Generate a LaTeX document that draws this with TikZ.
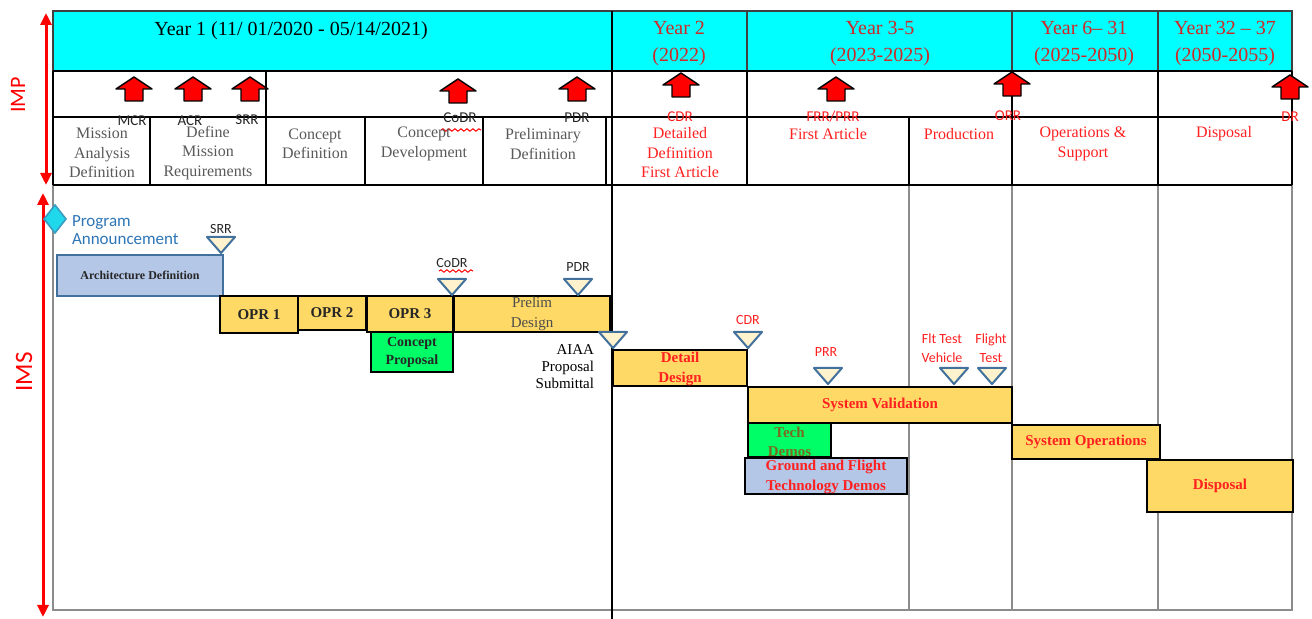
\documentclass[tikz,border=0pt]{standalone}
\usepackage{fontspec}
\setmainfont{Liberation Serif}
\newfontfamily\calib{Carlito}
\usetikzlibrary{fit,arrows.meta,decorations.pathmorphing}

\definecolor{hdrcyan}{HTML}{00FFFF}
\definecolor{yrred}{HTML}{D02828}
\definecolor{phgray}{HTML}{595959}
\definecolor{phred}{HTML}{FF2020}
\definecolor{barY}{HTML}{FFD966}
\definecolor{barG}{HTML}{00FF66}
\definecolor{barB}{HTML}{B4C7E7}
\definecolor{triF}{HTML}{FFF2CC}
\definecolor{triE}{HTML}{41719C}
\definecolor{annBlue}{HTML}{2E75B6}
\definecolor{frameGray}{HTML}{8C8C8C}
\definecolor{diamC}{HTML}{1FD8EC}
\definecolor{diamE}{HTML}{3A9BC0}
\definecolor{olivetxt}{HTML}{7A6A20}

\tikzset{
  gridline/.style={draw=black, line width=0.6pt},
  lowline/.style={draw=frameGray, line width=1.1pt},
  hdrcell/.style={fill=hdrcyan, draw=black!75, line width=0.8pt, inner sep=0pt},
  hdrtxt/.style={font=\fontsize{10}{13.5}\selectfont, align=center, text=yrred},
  phaselab/.style={font=\fontsize{8}{9.75}\selectfont, align=center, text=phgray},
  phaseredlab/.style={phaselab, text=phred},
  mslab/.style={font=\calib\fontsize{7.5}{8}\selectfont, text=black!85},
  msredlab/.style={mslab, text=phred},
  trilab/.style={font=\calib\fontsize{7}{9.5}\selectfont, align=center, text=black!85},
  triredlab/.style={trilab, text=phred},
  barbox/.style={draw=black, line width=1pt, inner sep=0pt},
  ybar/.style={barbox, fill=barY},
  gbar/.style={barbox, fill=barG},
  bbar/.style={barbox, fill=barB},
  bartxt/.style={align=center, font=\bfseries\fontsize{7.5}{9.75}\selectfont},
  bartxtred/.style={bartxt, text=phred},
  blk/.style={fill=red, draw=black, line width=0.7pt, line join=round},
  tri/.style={fill=triF, draw=triE, line width=1pt, line join=round},
  upblock/.pic={\draw[blk] (0,0) -- (18,12) -- (9,12) -- (9,24) -- (-9,24) -- (-9,12) -- (-18,12) -- cycle;},
  msdown/.pic={\draw[tri] (-14,0) -- (14,0) -- (0,16) -- cycle;},
  wavy/.style={draw=red, line width=0.5pt, decorate,
               decoration={snake, amplitude=0.6pt, segment length=3pt}},
  sidearrow/.style={draw=red, line width=1.5pt,
               {Triangle[length=6pt,width=5.5pt]}-{Triangle[length=6pt,width=5.5pt]}},
}

\begin{document}
\begin{tikzpicture}[x=0.5pt,y=-0.5pt, every node/.style={inner sep=0pt, outer sep=0pt}]
\useasboundingbox (0,0) rectangle (1312,619);

% outer frame and lower column lines
\draw[lowline] (53,11) -- (53,610) -- (1292,610) -- (1292,11);
\draw[lowline] (909,185) -- (909,610);
\draw[lowline] (1012,185) -- (1012,610);
\draw[lowline] (1158,185) -- (1158,610);

% year header cells
\node[hdrcell, fit={(53,11)(612,71)}] (yr1) {};
\node[hdrcell, fit={(612,11)(747,71)}] (yr2) {};
\node[hdrcell, fit={(747,11)(1012,71)}] (yr3) {};
\node[hdrcell, fit={(1012,11)(1158,71)}] (yr6) {};
\node[hdrcell, fit={(1158,11)(1292,71)}] (yr32) {};

\node[font=\fontsize{10}{13}\selectfont] (t1) at (291,31) {Year 1 (11/ 01/2020 - 05/14/2021)};
\node[hdrtxt] (t2) at (679,44) {Year 2\\(2022)};
\node[hdrtxt] (t3) at (880,44) {Year 3-5\\(2023-2025)};
\node[hdrtxt] (t6) at (1084,44) {Year 6– 31\\(2025-2050)};
\node[hdrtxt] (t32) at (1225,44) {Year 32 – 37\\(2050-2055)};

% milestone and phase rows
\draw[gridline] (53,71) -- (1292,71);
\draw[gridline] (53,117) -- (1292,117);
\draw[gridline] (53,185) -- (1292,185);
\draw[gridline] (53,71) -- (53,185);
\draw[gridline] (1292,71) -- (1292,185);
\draw[gridline] (266,71) -- (266,185);
\draw[gridline] (747,71) -- (747,185);
\draw[gridline] (1012,71) -- (1012,185);
\draw[gridline] (1158,71) -- (1158,185);
\foreach \xx in {150,365,483,606,909}
  \draw[gridline] (\xx,117) -- (\xx,185);
\draw[black, line width=1.1pt] (612,11) -- (612,619);

% review arrows
\pic (aMCR) at (134,77) {upblock};
\pic (aACR) at (193,77) {upblock};
\pic (aSRR) at (250,77) {upblock};
\pic (aCoDR) at (458,79) {upblock};
\pic (aPDR) at (577,77) {upblock};
\pic (aCDR) at (681,73) {upblock};
\pic (aFRR) at (836,77) {upblock};
\pic (aORR) at (1012,72) {upblock};
\pic (aDR) at (1290,75) {upblock};

\node[mslab] (lMCR) at (132,121) {MCR};
\node[mslab] (lACR) at (190,121) {ACR};
\node[mslab] (lSRR) at (247,120) {SRR};
\node[mslab] (lCoDR) at (460,118) {CoDR};
\draw[wavy] (441,130) -- (481,130);
\node[mslab] (lPDR) at (577,118) {PDR};
\node[msredlab] (lCDR) at (680,117) {CDR};
\node[msredlab] (lFRR) at (833,117) {FRR/PRR};
\node[msredlab] (lORR) at (1008,116) {ORR};
\node[msredlab] (lDR) at (1290,117) {DR};

% phases
\node[phaselab] (p1) at (102,153) {Mission\\Analysis\\Definition};
\node[phaselab] (p2) at (208,153) {Define\\Mission\\Requirements};
\node[phaselab] (p3) at (315,144) {Concept\\Definition};
\node[phaselab] (p4) at (424,144) {Concept\\Development};
\node[phaselab] (p5) at (543,144) {Preliminary\\Definition};
\node[phaseredlab] (p6) at (680,153) {Detailed\\Definition\\First Article};
\node[phaseredlab] (p7) at (828,134) {First Article};
\node[phaseredlab] (p8) at (959,134) {Production};
\node[phaseredlab] (p9) at (1083,144) {Operations \&\\Support};
\node[phaseredlab] (p10) at (1224,134) {Disposal};

% IMP / IMS spans
\draw[sidearrow] (46,13) -- (46,185);
\draw[sidearrow] (43,193) -- (43,617);
\node[rotate=90, text=red, font=\calib\fontsize{11}{12}\selectfont] (imp) at (18,95) {IMP};
\node[rotate=90, text=red, font=\calib\fontsize{12.5}{13}\selectfont] (ims) at (24,372) {IMS};

% program start
\draw[fill=diamC, draw=diamE, line width=0.8pt] (55,205) -- (66,219) -- (55,233) -- (44,219) -- cycle;
\node[anchor=west, align=left, text=annBlue, font=\calib\fontsize{8.5}{9}\selectfont] (ann) at (72,230) {Program\\Announcement};

% schedule bars
\node[bbar, draw=triE, fit={(57,255)(223,296)}] (arch) {};
\node[ybar, fit={(220,296)(298,333)}] (opr1) {};
\node[ybar, fit={(298,296)(366,330)}] (opr2) {};
\node[ybar, fit={(367,296)(453,332)}] (opr3) {};
\node[ybar, fit={(454,296)(610,332)}] (prelim) {};
\node[gbar, fit={(371,332)(453,372)}] (cprop) {};
\node[ybar, fit={(613,350)(747,386)}] (detail) {};
\node[ybar, fit={(748,387)(1012,423)}] (sysval) {};
\node[gbar, fit={(748,423)(831,457)}] (tech) {};
\node[bbar, fit={(745,458)(907,494)}] (gfd) {};
\node[ybar, fit={(1012,425)(1160,459)}] (sysops) {};
\node[ybar, fit={(1147,460)(1293,512)}] (disp) {};

\node[bartxt, font=\bfseries\fontsize{6}{7}\selectfont, text=black!85] at (arch.center) {Architecture Definition};
\node[bartxt, text=black!85] at (opr1.center) {OPR 1};
\node[bartxt, text=black!85] at (opr2.center) {OPR 2};
\node[bartxt, text=black!85] at (opr3.center) {OPR 3};
\node[bartxt, font=\fontsize{7.5}{9.75}\selectfont, text=black!70] at (prelim.center) {Prelim\\Design};
\node[bartxt, font=\bfseries\fontsize{7}{9}\selectfont, text=black!85] at (cprop.center) {Concept\\Proposal};
\node[bartxtred] at ([yshift=-0.5pt]detail.center) {Detail\\Design};
\node[bartxtred] at (sysval.center) {System Validation};
\node[bartxt, text=olivetxt] at ([yshift=-1pt]tech.center) {Tech\\Demos};
\node[bartxtred] at ([yshift=-0.5pt]gfd.center) {Ground and Flight\\Technology Demos};
\node[bartxtred] at (sysops.center) {System Operations};
\node[bartxtred] at (disp.center) {Disposal};

% schedule milestones
\pic (mSRR) at (221,237) {msdown};
\pic (mCoDR) at (452,279) {msdown};
\pic (mPDR) at (578,279) {msdown};
\pic (mAIAA) at (613,332) {msdown};
\pic (mCDR) at (748,332) {msdown};
\pic (mPRR) at (828,368) {msdown};
\pic (mFTV) at (954,368) {msdown};
\pic (mFT) at (992,368) {msdown};

\node[trilab] (sSRR) at (221,229) {SRR};
\node[trilab] (sCoDR) at (452,263) {CoDR};
\draw[wavy] (439,271) -- (473,271);
\node[trilab] (sPDR) at (578,267) {PDR};
\node[triredlab] (sCDR) at (748,320) {CDR};
\node[triredlab] (sPRR) at (826,352) {PRR};
\node[triredlab] (sFTV) at (942,348) {Flt Test\\Vehicle};
\node[triredlab] (sFT) at (991,348) {Flight\\Test};
\node[anchor=east, align=right, font=\fontsize{7.5}{8.5}\selectfont] (aiaa) at (594,367) {AIAA\\Proposal\\Submittal};

\end{tikzpicture}
\end{document}
